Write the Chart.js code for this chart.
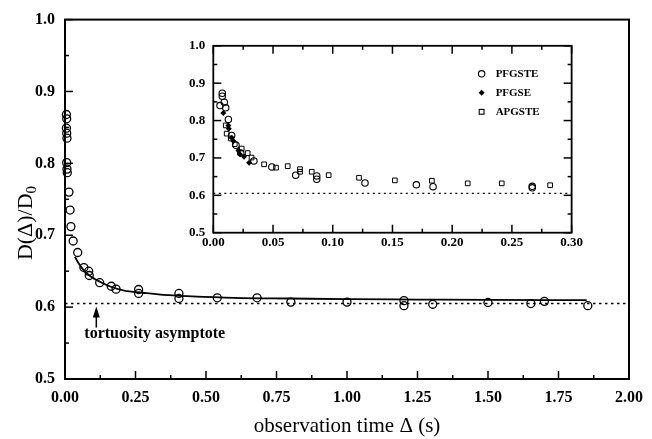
<!DOCTYPE html>
<html>
<head>
<meta charset="utf-8">
<script src="https://cdn.jsdelivr.net/npm/chart.js@4/dist/chart.umd.min.js"></script>
<style>
  html, body { margin: 0; padding: 0; background: #fff; }
  #wrap { position: relative; width: 652px; height: 439px; }
  #mainChart { position: absolute; left: 0; top: 0; }
  #insetChart { position: absolute; left: 150px; top: 30px; }
</style>
</head>
<body>
<div id="wrap">
  <canvas id="mainChart" width="652" height="439"></canvas>
  <canvas id="insetChart" width="435" height="235"></canvas>
</div>
<script>
// ---------- main plot data ----------
const mainX = [0.005, 0.006, 0.005, 0.006, 0.007, 0.006, 0.007, 0.008, 0.014, 0.018, 0.021, 0.029,
  0.045, 0.067, 0.084, 0.086, 0.123, 0.164, 0.181, 0.261, 0.261, 0.404, 0.404, 0.540, 0.681,
  0.801, 1.000, 1.202, 1.202, 1.304, 1.500, 1.652, 1.700, 1.854];
const mainY = [0.868, 0.862, 0.849, 0.842, 0.835, 0.801, 0.792, 0.787, 0.760, 0.735, 0.712, 0.692,
  0.676, 0.655, 0.650, 0.644, 0.634, 0.629, 0.625, 0.6245, 0.619, 0.619, 0.612, 0.613, 0.613,
  0.607, 0.607, 0.609, 0.602, 0.604, 0.6065, 0.605, 0.608, 0.602];

const fitX = [0.035, 0.05, 0.067, 0.09, 0.125, 0.165, 0.21, 0.275, 0.35, 0.45, 0.6, 0.8, 1.0, 1.25, 1.5, 1.85];
const fitY = [0.670, 0.660, 0.651, 0.643, 0.635, 0.628, 0.623, 0.620, 0.617, 0.615, 0.613, 0.612, 0.611, 0.6105, 0.610, 0.6097];

const asymptote = 0.605;
const mainRange = [0, 2];
const insetRange = [0, 0.3];
const arrowAt = 0.111;

// ---------- inset data ----------
const stteX = [0.0075, 0.0075, 0.0056, 0.0092, 0.0104, 0.0126, 0.0154, 0.019, 0.023, 0.034, 0.049,
  0.069, 0.0866, 0.0866, 0.127, 0.170, 0.184, 0.267, 0.267];
const stteY = [0.873, 0.865, 0.840, 0.849, 0.834, 0.803, 0.760, 0.734, 0.713, 0.692, 0.676,
  0.654, 0.652, 0.643, 0.633, 0.628, 0.623, 0.624, 0.620];

const gseX = [0.0084, 0.0126, 0.0130, 0.0154, 0.0168, 0.021, 0.0224, 0.0257, 0.030];
const gseY = [0.820, 0.787, 0.778, 0.754, 0.745, 0.720, 0.710, 0.703, 0.687];

const apgX = [0.0104, 0.0112, 0.0146, 0.018, 0.0238, 0.0288, 0.032, 0.0425, 0.0525, 0.0623,
  0.0726, 0.0726, 0.0824, 0.0966, 0.122, 0.152, 0.183, 0.213, 0.2415, 0.282];
const apgY = [0.787, 0.765, 0.752, 0.737, 0.725, 0.713, 0.701, 0.683, 0.674, 0.678,
  0.670, 0.663, 0.663, 0.654, 0.647, 0.640, 0.639, 0.632, 0.632, 0.627];

const seriesNames = ["PFGSTE", "PFGSE", "APGSTE"];

Chart.defaults.font.family = "'Liberation Serif', 'Times New Roman', serif";
Chart.defaults.color = "#000";

const pts = (xs, ys) => xs.map((x, i) => ({ x, y: ys[i] }));
const isMajor = (v, per) => Math.abs(v * per - Math.round(v * per)) < 1e-6;

/* ---------- frame + inward ticks ---------- */
const frameTicks = {
  id: "frameTicks",
  afterDraw(chart, args, opts) {
    const { ctx, chartArea: a, scales } = chart;
    const seg = (x1, y1, x2, y2) => { ctx.beginPath(); ctx.moveTo(x1, y1); ctx.lineTo(x2, y2); ctx.stroke(); };
    ctx.save();
    ctx.strokeStyle = "#000";
    ctx.lineWidth = 1.5;
    scales.x.ticks.forEach(t => {
      const px = scales.x.getPixelForValue(t.value);
      const len = t.label ? opts.major : opts.minor;
      seg(px, a.bottom, px, a.bottom - len);
      if (opts.mirror) seg(px, a.top, px, a.top + len);
    });
    scales.y.ticks.forEach(t => {
      const py = scales.y.getPixelForValue(t.value);
      const len = t.label ? opts.major : opts.minor;
      seg(a.left, py, a.left + len, py);
      if (opts.mirror) seg(a.right, py, a.right - len, py);
    });
    ctx.lineWidth = opts.frame;
    ctx.strokeRect(a.left, a.top, a.right - a.left, a.bottom - a.top);
    ctx.restore();
  }
};

/* ---------- y title + asymptote note (main) ---------- */
const mainNotes = {
  id: "mainNotes",
  afterDraw(chart) {
    const { ctx, scales: { x, y } } = chart;
    ctx.save();
    ctx.fillStyle = "#000";
    ctx.translate(26, 223);
    ctx.rotate(-Math.PI / 2);
    ctx.textBaseline = "middle";
    ctx.font = "22px 'Liberation Serif'";
    const w1 = ctx.measureText("D(Δ)/D").width;
    ctx.font = "15px 'Liberation Serif'";
    const w2 = ctx.measureText("0").width;
    const start = -(w1 + w2) / 2;
    ctx.font = "22px 'Liberation Serif'";
    ctx.fillText("D(Δ)/D", start, 0);
    ctx.font = "15px 'Liberation Serif'";
    ctx.fillText("0", start + w1, 6);
    ctx.restore();

    const ax = x.getPixelForValue(arrowAt);
    const ay = y.getPixelForValue(asymptote);
    ctx.save();
    ctx.strokeStyle = "#000";
    ctx.fillStyle = "#000";
    ctx.lineWidth = 1.5;
    ctx.beginPath();
    ctx.moveTo(ax, ay + 12);
    ctx.lineTo(ax, ay + 24);
    ctx.stroke();
    ctx.beginPath();
    ctx.moveTo(ax, ay + 3);
    ctx.lineTo(ax - 3.5, ay + 14);
    ctx.lineTo(ax + 3.5, ay + 14);
    ctx.closePath();
    ctx.fill();
    ctx.font = "bold 16px 'Liberation Serif'";
    ctx.textBaseline = "middle";
    ctx.fillText("tortuosity asymptote", ax - 12, ay + 30);
    ctx.restore();
  }
};

/* ---------- inset legend ---------- */
const insetLegend = {
  id: "insetLegend",
  afterDraw(chart) {
    const { ctx, chartArea: a } = chart;
    ctx.save();
    ctx.strokeStyle = "#000";
    ctx.fillStyle = "#000";
    chart.data.datasets.slice(0, 3).forEach((ds, i) => {
      const cx = a.right - 90;
      const cy = a.top + 28 + i * 19;
      ctx.lineWidth = 1.1;
      if (ds.pointStyle === "circle") {
        ctx.beginPath(); ctx.arc(cx, cy, 3.2, 0, Math.PI * 2); ctx.stroke();
      } else if (ds.pointStyle === "rectRot") {
        ctx.beginPath();
        ctx.moveTo(cx, cy - 3); ctx.lineTo(cx + 3, cy); ctx.lineTo(cx, cy + 3); ctx.lineTo(cx - 3, cy);
        ctx.closePath(); ctx.fill();
      } else {
        ctx.strokeRect(cx - 2.4, cy - 2.4, 4.8, 4.8);
      }
      ctx.font = "bold 11px 'Liberation Serif'";
      ctx.textBaseline = "middle";
      ctx.fillText(ds.label, cx + 14, cy + 0.5);
    });
    ctx.restore();
  }
};

/* ---------- MAIN CHART ---------- */
new Chart(document.getElementById("mainChart"), {
  type: "scatter",
  data: {
    datasets: [
      {
        data: pts(mainX, mainY),
        pointStyle: "circle", pointRadius: 4, pointBorderWidth: 1.3,
        pointBorderColor: "#000", pointBackgroundColor: "rgba(0,0,0,0)",
        showLine: false, clip: false
      },
      {
        data: pts(fitX, fitY),
        showLine: true, borderColor: "#000", borderWidth: 1.8,
        pointRadius: 0, cubicInterpolationMode: "monotone"
      },
      {
        data: pts(mainRange, [asymptote, asymptote]),
        showLine: true, borderColor: "#000", borderWidth: 1.6,
        borderDash: [2.5, 3.5], pointRadius: 0
      }
    ]
  },
  options: {
    responsive: false,
    animation: false,
    layout: { padding: { left: 0, right: 17, top: 18, bottom: 0 } },
    plugins: {
      legend: { display: false },
      tooltip: { enabled: false },
      frameTicks: { major: 8, minor: 4, frame: 2, mirror: false }
    },
    scales: {
      x: {
        type: "linear", min: 0, max: 2,
        grid: { display: false, drawTicks: false }, border: { display: false },
        ticks: {
          stepSize: 0.125, autoSkip: false, maxRotation: 0, padding: 9,
          font: { size: 16, weight: "bold" },
          callback: v => isMajor(v, 4) ? v.toFixed(2) : ""
        },
        title: { display: true, text: "observation time Δ (s)", font: { size: 21 }, padding: { top: 0, bottom: 0 } },
        afterFit: s => { s.height = 60; }
      },
      y: {
        type: "linear", min: 0.5, max: 1.0,
        grid: { display: false, drawTicks: false }, border: { display: false },
        ticks: {
          stepSize: 0.05, autoSkip: false, padding: 10,
          font: { size: 16, weight: "bold" },
          callback: v => isMajor(v, 10) ? v.toFixed(1) : ""
        },
        afterFit: s => { s.width = 65; }
      }
    }
  },
  plugins: [frameTicks, mainNotes]
});

/* ---------- INSET CHART ---------- */
new Chart(document.getElementById("insetChart"), {
  type: "scatter",
  data: {
    datasets: [
      {
        label: seriesNames[0], data: pts(stteX, stteY),
        pointStyle: "circle", pointRadius: 3.2, pointBorderWidth: 1.1,
        pointBorderColor: "#000", pointBackgroundColor: "rgba(0,0,0,0)", clip: false
      },
      {
        label: seriesNames[1], data: pts(gseX, gseY),
        pointStyle: "rectRot", pointRadius: 3, pointBorderWidth: 0,
        pointBackgroundColor: "#000", clip: false
      },
      {
        label: seriesNames[2], data: pts(apgX, apgY),
        pointStyle: "rect", pointRadius: 3.3, pointBorderWidth: 1,
        pointBorderColor: "#000", pointBackgroundColor: "rgba(0,0,0,0)", clip: false
      },
      {
        data: pts(insetRange, [asymptote, asymptote]),
        showLine: true, borderColor: "#000", borderWidth: 1.3,
        borderDash: [2, 3.5], pointRadius: 0
      }
    ]
  },
  options: {
    responsive: false,
    animation: false,
    layout: { padding: { left: 0, right: 13.3, top: 15, bottom: 0 } },
    plugins: {
      legend: { display: false },
      tooltip: { enabled: false },
      frameTicks: { major: 8, minor: 4, frame: 1.8, mirror: true }
    },
    scales: {
      x: {
        type: "linear", min: 0, max: 0.3,
        grid: { display: false, drawTicks: false }, border: { display: false },
        ticks: {
          stepSize: 0.025, autoSkip: false, maxRotation: 0, padding: 2,
          font: { size: 13, weight: "bold" },
          callback: v => isMajor(v, 20) ? v.toFixed(2) : ""
        },
        afterFit: s => { s.height = 32.3; }
      },
      y: {
        type: "linear", min: 0.5, max: 1.0,
        grid: { display: false, drawTicks: false }, border: { display: false },
        ticks: {
          stepSize: 0.05, autoSkip: false, padding: 8,
          font: { size: 13, weight: "bold" },
          callback: v => isMajor(v, 10) ? v.toFixed(1) : ""
        },
        afterFit: s => { s.width = 63.3; }
      }
    }
  },
  plugins: [frameTicks, insetLegend]
});
</script>
</body>
</html>
